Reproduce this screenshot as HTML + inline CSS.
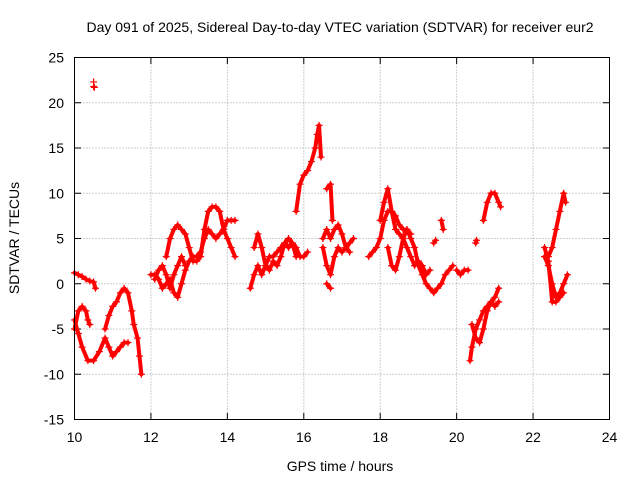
<!DOCTYPE html>
<html><head><meta charset="utf-8"><style>
body{margin:0;background:#fff}
svg{display:block;font-family:"Liberation Sans",sans-serif}
</style></head><body>
<svg id="c" width="640" height="480">
<text x="340" y="32" text-anchor="middle" font-size="14">Day 091 of 2025, Sidereal Day-to-day VTEC variation (SDTVAR) for receiver eur2</text>
<text x="340" y="471" text-anchor="middle" font-size="14">GPS time / hours</text>
<text transform="translate(19,238) rotate(-90)" text-anchor="middle" font-size="14">SDTVAR / TECUs</text>
<g id="grid"></g><g id="marks"></g>
<rect x="74.5" y="57.5" width="535" height="362" fill="none" stroke="#000"/>
</svg>
<script>
const xTicks=[10,12,14,16,18,20,22,24];
const yTicks=[25,20,15,10,5,0,-5,-10,-15];
const spikeT=[10.5,10.5,10.52];
const spikeV=[22.3,21.8,21.7];
const tracks=[
[[10.0,10.1,10.2,10.3,10.4,10.5,10.55],[1.2,1,0.8,0.5,0.3,0.2,-0.5]],
[[10.0,10.1,10.2,10.35,10.5,10.65,10.8,10.9,11.0,11.1,11.2,11.3,11.4],[-4,-5.5,-7,-8.5,-8.5,-7.5,-6,-7,-8,-7.5,-7,-6.5,-6.5]],
[[10.0,10.1,10.2,10.3,10.35,10.4],[-5,-3,-2.5,-3,-4,-4.5]],
[[10.8,10.9,11.0,11.1,11.2,11.3,11.4,11.5,11.55,11.65,11.7,11.75],[-5,-3.5,-2.5,-2,-1,-0.5,-1,-3,-4.5,-6,-8,-10]],
[[12.0,12.1,12.2,12.3,12.4,12.5,12.6,12.7,12.8,12.9,13.0,13.1,13.2,13.3,13.4,13.5,13.6,13.7,13.8,13.9,14.0,14.1,14.2],[1,1,0.5,-0.5,0,0.5,-1,-1.5,0,1.5,2.5,3,3,3.5,5,6,5.5,5,5.5,6,7,7,7]],
[[12.4,12.5,12.6,12.7,12.8,12.9,13.0,13.1,13.2,13.3,13.4,13.5,13.6,13.7,13.8,13.9,14.0,14.1,14.2],[3,5,6,6.5,6,5.5,4,2.5,2.5,3,6,8,8.5,8.5,8,6,5,4,3]],
[[12.1,12.2,12.3,12.4,12.5,12.6,12.7,12.8,12.9],[0.5,1.5,2,1,-0.5,1,2,3,2]],
[[14.6,14.7,14.8,14.9,15.0,15.1,15.2,15.3,15.4,15.5,15.6,15.7,15.8,15.9,16.0,16.1],[-0.5,1,2,1,2,3,3,3.5,4,4.5,4,4.5,4,3,3,3.5]],
[[14.7,14.8,14.9,15.0,15.1,15.2,15.3,15.4,15.5,15.6,15.7,15.8],[4,5.5,4,2,1.5,2.5,2,3,4.5,5,4.5,3]],
[[15.8,15.9,16.0,16.1,16.2,16.3,16.35,16.4,16.45],[8,11,12,12.5,13.5,15,16.5,17.5,14]],
[[16.5,16.6,16.7,16.8,16.9,17.0,17.1,17.2,17.3],[4,2,1,3,4,3.5,4,4.5,5]],
[[16.6,16.7,16.75],[10.5,11,7]],
[[16.5,16.6,16.7,16.8,16.9,17.0,17.1,17.2],[5,6,5,6,6.5,5.5,4,3.5]],
[[16.6,16.7],[0,-0.5]],
[[17.7,17.8,17.9,18.0,18.1,18.2,18.3,18.4,18.5,18.6,18.7,18.8,18.9,19.0,19.1,19.2,19.3,19.4,19.5,19.6,19.7,19.8,19.9],[3,3.5,4,5,7,8,8,7.5,6.5,6,6,5,4,2,1,0,-0.5,-1,-0.5,0,1,1.5,2]],
[[18.0,18.1,18.2,18.3,18.4,18.5,18.6,18.7,18.8,18.9,19.0,19.1,19.2,19.3],[7,9,10.5,8,6,5.5,5,4,3,2,2.5,2,1,1.5]],
[[18.2,18.3,18.4,18.5,18.6,18.7,18.8],[4,2,1.5,3,5,6,5.5]],
[[19.4,19.45],[4.5,4.8]],
[[19.6,19.65],[7,6]],
[[20.0,20.1,20.2,20.3],[1.5,1,1.5,1.5]],
[[20.35,20.4,20.5,20.6,20.7,20.8,20.9,21.0,21.1],[-8.5,-7,-5,-4,-3,-2.5,-2,-1.5,-0.5]],
[[20.4,20.5,20.6,20.7,20.8,20.9,21.0,21.1],[-4.5,-6,-6.5,-5,-3,-2,-2.5,-2]],
[[20.5,20.52],[4.5,4.8]],
[[20.7,20.8,20.9,21.0,21.1,21.15],[7,9,10,10,9,8.5]],
[[22.3,22.4,22.5,22.6,22.7,22.8,22.9],[3,2,0,-1.5,-1,0,1]],
[[22.3,22.4,22.5,22.6,22.7,22.8],[4,2.5,-2,-2,-1.5,-1]],
[[22.4,22.5,22.6,22.7,22.8,22.85],[3,4,6,8,10,9]]
];
const X=t=>74.5+(t-10)/14*535, Y=v=>57.5+(25-v)/40*362;
const NS="http://www.w3.org/2000/svg";
const svg=document.getElementById('c'),grid=document.getElementById('grid'),marks=document.getElementById('marks');
function mk(tag,attrs,parent){const e=document.createElementNS(NS,tag);for(const k in attrs)e.setAttribute(k,attrs[k]);parent.appendChild(e);return e;}
xTicks.forEach(t=>{
 if(t>10&&t<24){const g=mk('line',{x1:X(t),x2:X(t),y1:57.5,y2:419.5,stroke:'#a0a0a0','stroke-dasharray':'1,2'},grid);
 
 }
 const l=mk('text',{x:X(t),y:442,'text-anchor':'middle','font-size':14},svg);l.textContent=t;
 
 
 mk('line',{x1:X(t),x2:X(t),y1:419.5,y2:413,stroke:'#000'},grid);
 mk('line',{x1:X(t),x2:X(t),y1:57.5,y2:64,stroke:'#000'},grid);
});
yTicks.forEach(v=>{
 if(v<25&&v>-15){const g=mk('line',{x1:74.5,x2:609.5,y1:Y(v),y2:Y(v),stroke:'#a0a0a0','stroke-dasharray':'1,2'},grid);
 
 }
 const l=mk('text',{x:64,y:Y(v)+5,'text-anchor':'end','font-size':14},svg);l.textContent=v;
 
 
 mk('line',{x1:74.5,x2:81,y1:Y(v),y2:Y(v),stroke:'#000'},grid);
 mk('line',{x1:609.5,x2:603,y1:Y(v),y2:Y(v),stroke:'#000'},grid);
});
function plus(t,v,parent){
 const x=X(t),y=Y(v);
 mk('path',{d:`M${x-3.5},${y}H${x+3.5}M${x},${y-3.5}V${y+3.5}`,stroke:'#f00','stroke-width':1.2},parent);
}
tracks.forEach(tr=>{
 const g=mk('g',{},marks);
 
 
 const pts=tr[0].map((t,i)=>X(t)+','+Y(tr[1][i])).join(' ');
 mk('polyline',{points:pts,fill:'none',stroke:'#f00','stroke-width':4,'stroke-linejoin':'round','stroke-linecap':'round'},g);
 tr[0].forEach((t,i)=>plus(t,tr[1][i],g));
});
const sg=mk('g',{},marks);


spikeT.forEach((t,i)=>plus(t,spikeV[i],sg));
</script>
</body></html>
